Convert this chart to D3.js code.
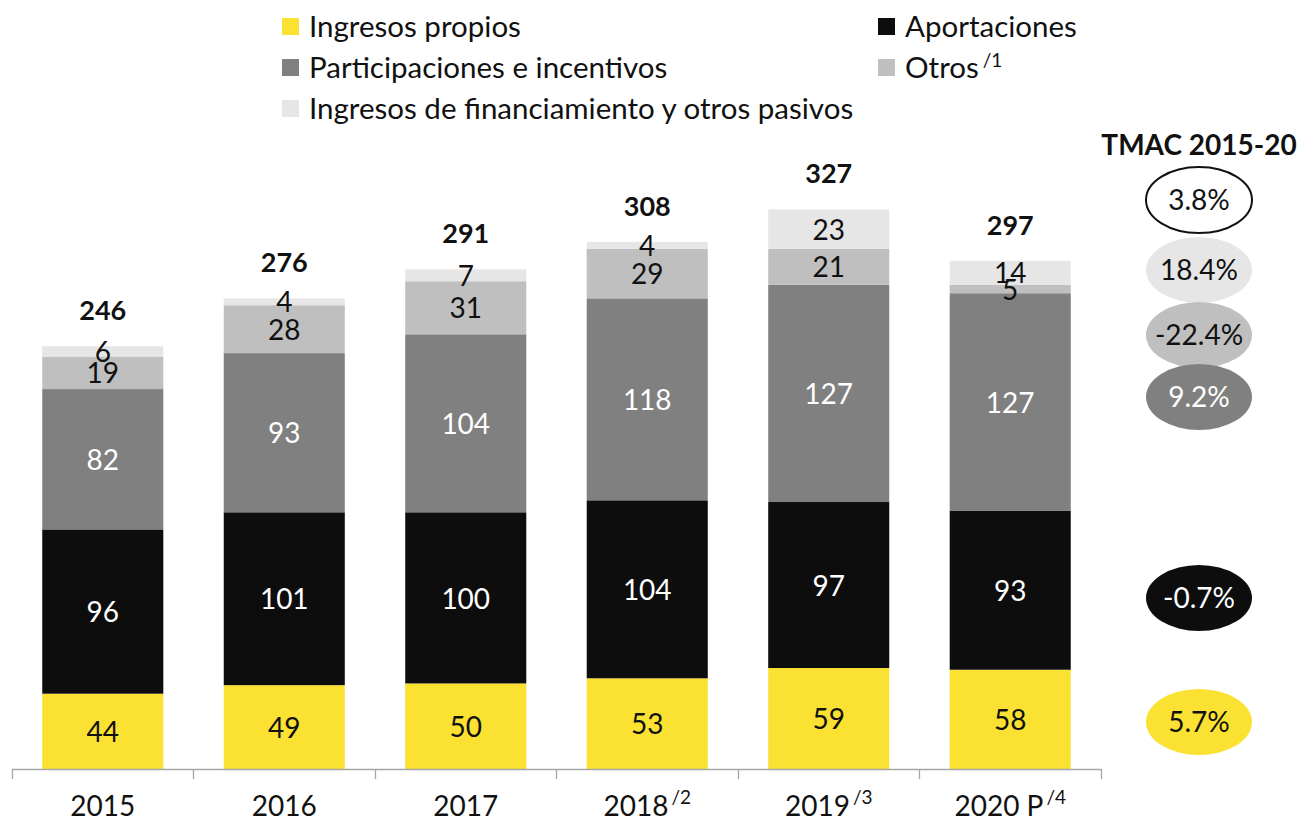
<!DOCTYPE html>
<html>
<head>
<meta charset="utf-8">
<script src="https://cdn.jsdelivr.net/npm/d3@7"></script>
<style>
  body { margin: 0; background: #fff; }
  text { font-family: Lato, "Noto Sans", sans-serif; }
</style>
</head>
<body>
<div id="chart"></div>
<script>
// data
const years = ["2015", "2016", "2017", "2018", "2019", "2020 P"];
const yearNotes = ["", "", "", "/2", "/3", "/4"];
const ingresosPropios = [44, 49, 50, 53, 59, 58];
const aportaciones = [96, 101, 100, 104, 97, 93];
const participaciones = [82, 93, 104, 118, 127, 127];
const otros = [19, 28, 31, 29, 21, 5];
const financiamiento = [6, 4, 7, 4, 23, 14];
const totals = [246, 276, 291, 308, 327, 297];
const tmacLabels = ["3.8%", "18.4%", "-22.4%", "9.2%", "-0.7%", "5.7%"];

const keys = ["propios", "aport", "partic", "otros", "financ"];
const colors = {
  propios: "#fbe232", aport: "#0d0d0d", partic: "#808080",
  otros: "#bfbfbf", financ: "#e6e6e6"
};
const labelColors = {
  propios: "#111", aport: "#fff", partic: "#fff", otros: "#111", financ: "#111"
};

const rows = years.map((y, i) => ({
  year: y, note: yearNotes[i], total: totals[i],
  propios: ingresosPropios[i], aport: aportaciones[i], partic: participaciones[i],
  otros: otros[i], financ: financiamiento[i]
}));

const W = 1302, H = 822;
const baseY = 769;

const svg = d3.select("#chart").append("svg")
  .attr("width", W).attr("height", H);

const x = d3.scaleBand().domain(years).range([12, 1101])
  .paddingInner(0.333).paddingOuter(0.1667);
const y = d3.scaleLinear().domain([0, 350]).range([baseY, baseY - 350 * 1.7114]);

const stacked = d3.stack().keys(keys)(rows);

// bars
const layers = svg.selectAll(".layer").data(stacked).enter()
  .append("g").attr("class", "layer")
  .attr("fill", d => colors[d.key]);

layers.selectAll("rect").data(d => d).enter().append("rect")
  .attr("x", d => x(d.data.year))
  .attr("width", x.bandwidth())
  .attr("y", d => y(d[1]))
  .attr("height", d => y(d[0]) - y(d[1]));

// segment labels
stacked.forEach(layer => {
  svg.append("g").selectAll("text").data(layer).enter().append("text")
    .attr("x", d => x(d.data.year) + x.bandwidth() / 2)
    .attr("y", d => (y(d[0]) + y(d[1])) / 2)
    .attr("dy", "0.38em")
    .attr("text-anchor", "middle")
    .attr("font-size", 28)
    .attr("fill", labelColors[layer.key])
    .text(d => d[1] - d[0]);
});

// totals
svg.append("g").selectAll("text").data(rows).enter().append("text")
  .attr("x", d => x(d.year) + x.bandwidth() / 2)
  .attr("y", d => y(d.propios + d.aport + d.partic + d.otros + d.financ) - 26)
  .attr("text-anchor", "middle")
  .attr("font-size", 27)
  .attr("font-weight", "bold")
  .attr("fill", "#111")
  .text(d => d.total);

// axis
const axis = svg.append("g");
axis.append("line")
  .attr("x1", x.range()[0]).attr("x2", x.range()[1])
  .attr("y1", baseY + 0.5).attr("y2", baseY + 0.5)
  .attr("stroke", "#a6a6a6").attr("stroke-width", 1.3);
const bounds = d3.range(years.length + 1).map(i => x.range()[0] + i * x.step());
axis.selectAll(".tick").data(bounds).enter().append("line")
  .attr("x1", d => Math.round(d) + 0.5).attr("x2", d => Math.round(d) + 0.5)
  .attr("y1", baseY).attr("y2", baseY + 10)
  .attr("stroke", "#a6a6a6").attr("stroke-width", 1.3);

const tl = axis.selectAll(".tlabel").data(rows).enter().append("text")
  .attr("x", d => x(d.year) + x.bandwidth() / 2)
  .attr("y", 816)
  .attr("text-anchor", "middle")
  .attr("font-size", 28)
  .attr("fill", "#111");
tl.append("tspan").text(d => d.year);
tl.append("tspan").attr("dy", -12).attr("font-size", 19).attr("dx", d => d.note ? 3 : 0)
  .text(d => d.note);

// legend
const legendItems = [
  { key: "propios", label: "Ingresos propios", lx: 282, ly: 26 },
  { key: "aport", label: "Aportaciones", lx: 878, ly: 26 },
  { key: "partic", label: "Participaciones e incentivos", lx: 282, ly: 67 },
  { key: "otros", label: "Otros", note: "/1", lx: 878, ly: 67 },
  { key: "financ", label: "Ingresos de financiamiento y otros pasivos", lx: 282, ly: 108 }
];
const lg = svg.append("g").selectAll("g").data(legendItems).enter().append("g")
  .attr("transform", d => `translate(${d.lx},${d.ly})`);
lg.append("rect").attr("x", 0).attr("y", -8).attr("width", 17).attr("height", 17)
  .attr("fill", d => colors[d.key]);
const lt = lg.append("text").attr("x", 27).attr("dy", "0.36em")
  .attr("font-size", 29.5).attr("fill", "#111");
lt.append("tspan").text(d => d.label);
lt.append("tspan").attr("dx", 4).attr("dy", -11).attr("font-size", 19)
  .text(d => d.note || "");

// TMAC column
const cx = 1199;
svg.append("text").attr("x", cx).attr("y", 155)
  .attr("text-anchor", "middle").attr("font-size", 28).attr("font-weight", "bold")
  .attr("fill", "#111").text("TMAC 2015-20");

const ellipses = [
  { cy: 200, fill: "#fff", stroke: "#111", color: "#111" },
  { cy: 270, fill: colors.financ, color: "#111" },
  { cy: 335, fill: colors.otros, color: "#111" },
  { cy: 397, fill: colors.partic, color: "#fff" },
  { cy: 598, fill: colors.aport, color: "#fff" },
  { cy: 722, fill: colors.propios, color: "#111" }
];
const eg = svg.append("g").selectAll("g").data(ellipses).enter().append("g");
eg.append("ellipse")
  .attr("cx", cx).attr("cy", d => d.cy).attr("rx", 53).attr("ry", 33)
  .attr("fill", d => d.fill)
  .attr("stroke", d => d.stroke || "none").attr("stroke-width", 2);
eg.append("text")
  .attr("x", cx).attr("y", d => d.cy).attr("dy", "0.37em")
  .attr("text-anchor", "middle").attr("font-size", 28)
  .attr("fill", d => d.color)
  .text((d, i) => tmacLabels[i]);
</script>
</body>
</html>
